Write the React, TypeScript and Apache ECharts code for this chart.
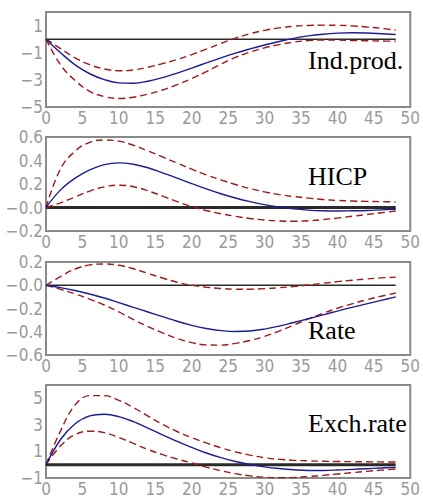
import React, { useEffect, useRef } from "react";
import * as echarts from "echarts";

const horizons = [0, 2, 4, 6, 8, 10, 12, 14, 16, 18, 20, 22, 24, 26, 28, 30, 32, 34, 36, 38, 40, 42, 44, 46, 48];
const xTickLabels = [0, 5, 10, 15, 20, 25, 30, 35, 40, 45, 50];
const zeroLineX = [0, 48];

// Ind.prod.
const ipIrf = [0, -1.0, -1.9, -2.55, -2.98, -3.22, -3.25, -3.1, -2.84, -2.5, -2.13, -1.75, -1.38, -1.03, -0.72, -0.43, -0.17, 0.06, 0.24, 0.36, 0.44, 0.47, 0.45, 0.4, 0.34];
const ipUpper = [0, -0.7, -1.38, -1.88, -2.2, -2.33, -2.27, -2.07, -1.8, -1.5, -1.14, -0.74, -0.32, 0.07, 0.4, 0.65, 0.83, 0.95, 1.01, 1.03, 1.02, 0.98, 0.9, 0.8, 0.66];
const ipLower = [0, -1.9, -3.05, -3.85, -4.23, -4.37, -4.28, -4.05, -3.75, -3.35, -2.9, -2.4, -1.85, -1.35, -0.95, -0.64, -0.4, -0.22, -0.11, -0.06, -0.07, -0.1, -0.12, -0.14, -0.15];
const ipTicks = [-5, -3, -1, 1];

// HICP
const hicpIrf = [0, 0.15, 0.25, 0.32, 0.365, 0.38, 0.368, 0.338, 0.295, 0.25, 0.203, 0.158, 0.117, 0.081, 0.05, 0.024, 0.004, -0.012, -0.022, -0.028, -0.03, -0.028, -0.025, -0.02, -0.015];
const hicpUpper = [0, 0.33, 0.48, 0.555, 0.575, 0.565, 0.53, 0.482, 0.43, 0.378, 0.326, 0.278, 0.235, 0.196, 0.161, 0.133, 0.11, 0.093, 0.08, 0.068, 0.06, 0.055, 0.052, 0.05, 0.048];
const hicpLower = [0, 0.04, 0.09, 0.14, 0.175, 0.19, 0.177, 0.142, 0.097, 0.05, 0.008, -0.026, -0.053, -0.075, -0.094, -0.107, -0.115, -0.117, -0.113, -0.103, -0.09, -0.075, -0.06, -0.045, -0.03];
const hicpTicks = [-0.2, 0, 0.2, 0.4, 0.6];

// Rate
const rateIrf = [0, -0.02, -0.045, -0.075, -0.11, -0.15, -0.19, -0.23, -0.27, -0.31, -0.345, -0.372, -0.39, -0.398, -0.394, -0.377, -0.352, -0.32, -0.288, -0.255, -0.222, -0.19, -0.16, -0.13, -0.1];
const rateUpper = [0, 0.075, 0.14, 0.175, 0.183, 0.172, 0.142, 0.102, 0.062, 0.026, 0.0, -0.017, -0.028, -0.034, -0.034, -0.029, -0.021, -0.011, 0.002, 0.017, 0.031, 0.043, 0.054, 0.063, 0.07];
const rateLower = [0, -0.035, -0.075, -0.12, -0.17, -0.23, -0.295, -0.355, -0.41, -0.458, -0.493, -0.513, -0.515, -0.5, -0.475, -0.44, -0.395, -0.343, -0.29, -0.242, -0.198, -0.16, -0.125, -0.095, -0.067];
const rateTicks = [-0.6, -0.4, -0.2, 0, 0.2];

// Exch.rate
const fxIrf = [0, 1.9, 3.08, 3.68, 3.8, 3.62, 3.24, 2.76, 2.25, 1.75, 1.3, 0.88, 0.53, 0.24, 0.02, -0.16, -0.29, -0.38, -0.43, -0.43, -0.4, -0.35, -0.3, -0.25, -0.2];
const fxUpper = [0, 2.55, 4.5, 5.2, 5.2, 4.85, 4.3, 3.66, 3.04, 2.5, 2.04, 1.64, 1.28, 0.97, 0.72, 0.53, 0.41, 0.33, 0.29, 0.26, 0.24, 0.23, 0.22, 0.21, 0.2];
const fxLower = [0, 1.42, 2.27, 2.52, 2.42, 2.05, 1.6, 1.15, 0.76, 0.43, 0.13, -0.18, -0.45, -0.67, -0.84, -0.94, -0.98, -0.96, -0.89, -0.8, -0.7, -0.6, -0.5, -0.41, -0.32];
const fxTicks = [-1, 1, 3, 5];

const panelNames = ["Ind.prod.", "HICP", "Rate", "Exch.rate"];

export default function App() {
  const ref = useRef<HTMLDivElement>(null);

  useEffect(() => {
    if (!ref.current) return;
    const chart = echarts.init(ref.current, null, { renderer: "svg" });

    const panels = [
      { name: panelNames[0], irf: ipIrf, up: ipUpper, lo: ipLower, ticks: ipTicks, min: -5, max: 2, interval: 2, dec: 0, zw: 1.5, top: 12, height: 95, labelTop: 47 },
      { name: panelNames[1], irf: hicpIrf, up: hicpUpper, lo: hicpLower, ticks: hicpTicks, min: -0.2, max: 0.6, interval: 0.2, dec: 1, zw: 3, top: 137, height: 94, labelTop: 163 },
      { name: panelNames[2], irf: rateIrf, up: rateUpper, lo: rateLower, ticks: rateTicks, min: -0.6, max: 0.2, interval: 0.2, dec: 1, zw: 1.5, top: 262, height: 93, labelTop: 317 },
      { name: panelNames[3], irf: fxIrf, up: fxUpper, lo: fxLower, ticks: fxTicks, min: -1, max: 6, interval: 2, dec: 0, zw: 3, top: 385, height: 95, labelTop: 410 },
    ];

    const labelFont = {
      color: "#9a9a9a",
      fontFamily: '"Liberation Sans Narrow", "DejaVu Sans Condensed", sans-serif',
      fontSize: 17,
    };
    const pairs = (ys: number[]) => horizons.map((x, i) => [x, ys[i]]);

    const grid: any[] = [];
    const xAxis: any[] = [];
    const yAxis: any[] = [];
    const series: any[] = [];
    const title: any[] = [];

    panels.forEach((p, k) => {
      grid.push({
        left: 46,
        width: 368,
        top: p.top,
        height: p.height,
        show: true,
        borderColor: "#8a8a8a",
        borderWidth: 2,
        backgroundColor: "#ffffff",
      });
      xAxis.push({
        type: "value",
        gridIndex: k,
        min: 0,
        max: 50,
        interval: 5,
        axisLine: { show: false },
        axisTick: { show: false },
        splitLine: { show: false },
        axisLabel: {
          ...labelFont,
          margin: 2,
          formatter: (v: number) => (xTickLabels.includes(Math.round(v)) ? String(Math.round(v)) : ""),
        },
      });
      yAxis.push({
        type: "value",
        gridIndex: k,
        min: p.min,
        max: p.max,
        interval: p.interval,
        axisLine: { show: false },
        axisTick: { show: false },
        splitLine: { show: false },
        axisLabel: {
          ...labelFont,
          margin: 3,
          showMaxLabel: true,
          formatter: (v: number) => {
            const r = Math.round(v * 100) / 100;
            if (!p.ticks.some((t) => Math.abs(t - r) < 1e-6)) return "";
            if (p.dec === 0) return r < 0 ? "\u2212" + Math.abs(r) : String(r);
            return r <= 0 ? "\u2212" + Math.abs(r).toFixed(1) : r.toFixed(1);
          },
        },
      });
      series.push({
        type: "line",
        xAxisIndex: k,
        yAxisIndex: k,
        data: zeroLineX.map((x) => [x, 0]),
        symbol: "none",
        lineStyle: { color: "#2a2a2a", width: p.zw },
        z: 2,
      });
      series.push({
        type: "line",
        xAxisIndex: k,
        yAxisIndex: k,
        data: pairs(p.up),
        smooth: 0.4,
        symbol: "none",
        lineStyle: { color: "#a01818", width: 1.4, type: [7, 4] },
        z: 3,
      });
      series.push({
        type: "line",
        xAxisIndex: k,
        yAxisIndex: k,
        data: pairs(p.lo),
        smooth: 0.4,
        symbol: "none",
        lineStyle: { color: "#a01818", width: 1.4, type: [7, 4] },
        z: 3,
      });
      series.push({
        type: "line",
        xAxisIndex: k,
        yAxisIndex: k,
        data: pairs(p.irf),
        smooth: 0.4,
        symbol: "none",
        lineStyle: { color: "#1c1c96", width: 1.4 },
        z: 4,
      });
      title.push({
        text: p.name,
        left: 308,
        top: p.labelTop,
        padding: 0,
        z: 10,
        textStyle: {
          fontFamily: "'Liberation Serif', 'Times New Roman', 'DejaVu Serif', serif",
          fontSize: 26,
          fontWeight: "normal",
          color: "#000000",
        },
      });
    });

    chart.setOption({
      animation: false,
      backgroundColor: "#ffffff",
      title,
      grid,
      xAxis,
      yAxis,
      series,
    });

    return () => chart.dispose();
  }, []);

  return (
    <div
      ref={ref}
      style={{ position: "fixed", left: 0, top: 0, width: 423, height: 497, background: "#fff" }}
    />
  );
}
